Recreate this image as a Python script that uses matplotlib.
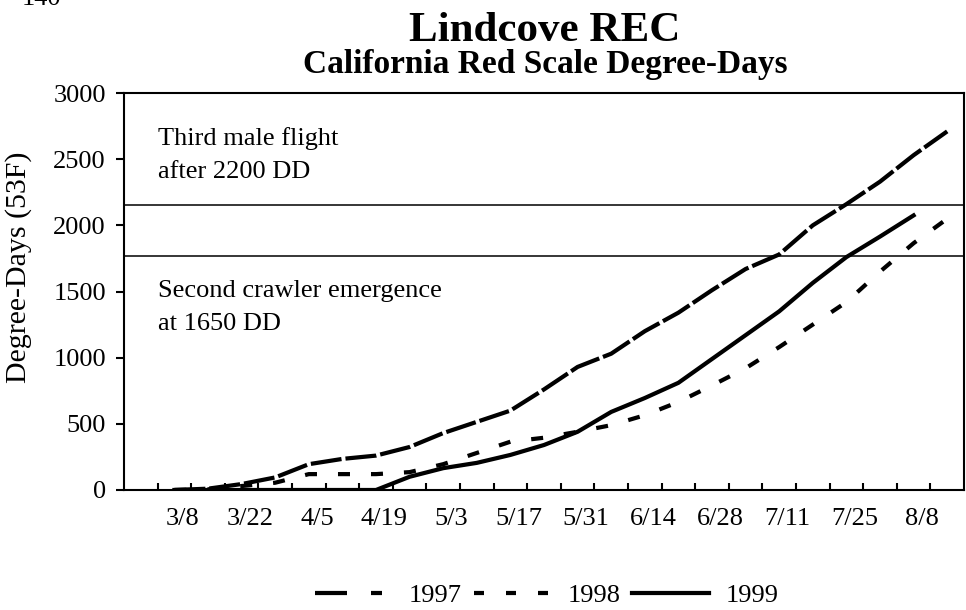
import matplotlib
matplotlib.use('Agg')
import matplotlib.pyplot as plt
import numpy as np
from matplotlib.lines import Line2D

plt.rcParams['font.family'] = ['Liberation Serif', 'DejaVu Serif']
plt.rcParams['lines.scale_dashes'] = False

nan = np.nan

# weekly categories, every other one labelled
n_weeks = 25
tick_labels = ['3/8', '3/22', '4/5', '4/19', '5/3', '5/17', '5/31',
               '6/14', '6/28', '7/11', '7/25', '8/8']

dd_1997 = [nan, 0, 10, 45, 95, 195, 235, 260, 325, 430, 515, 600, 760,
           930, 1030, 1200, 1340, 1510, 1670, 1780, 2000, 2160, 2330, 2530, 2710]
dd_1998 = [nan, 0, 5, 30, 55, 120, 120, 120, 135, 195, 280, 365, 395,
           440, 490, 565, 665, 790, 920, 1080, 1250, 1420, 1650, 1865, 2050]
dd_1999 = [nan, 0, 0, 0, 0, 0, 0, 0, 100, 165, 205, 265, 340,
           440, 590, 695, 810, 990, 1170, 1350, 1565, 1760, 1915, 2075, nan]

male_flight_dd = 2155
crawler_dd = 1770


def px(v):
    # pixels -> points at 100 dpi
    return v * 72 / 100


fig = plt.figure(figsize=(9.66, 6.1), dpi=100)
ax = fig.add_axes([124 / 966, 1 - 490 / 610, 840 / 966, 397 / 610])

x = np.arange(n_weeks)
lw = px(4.2)
ax.plot(x, dd_1997, color='black', lw=lw, dashes=(px(31), px(4)))
ax.plot(x, dd_1998, color='black', lw=lw, dashes=(px(12), px(21)))
ax.plot(x, dd_1999, color='black', lw=lw)

ax.axhline(male_flight_dd, color='black', lw=1.1)
ax.axhline(crawler_dd, color='black', lw=1.1)

fs = 19
ax.text(0.04, 0.845, 'Third male flight\nafter 2200 DD', transform=ax.transAxes,
        fontsize=fs, va='center', ha='left', linespacing=1.65)
ax.text(0.04, 0.46, 'Second crawler emergence\nat 1650 DD', transform=ax.transAxes,
        fontsize=fs, va='center', ha='left', linespacing=1.65)

ax.set_xlim(-0.5, n_weeks - 0.5)
ax.set_ylim(0, 3000)
ax.set_yticks(np.arange(0, 3001, 500))
ax.tick_params(axis='y', direction='out', length=6, width=1.5, pad=7, labelsize=fs)

# tick marks between weeks, labels every two weeks
ax.set_xticks(np.arange(0.5, n_weeks - 1, 1.0))
ax.set_xticklabels([])
ax.tick_params(axis='x', which='major', direction='in', length=5, width=1.5)
ax.set_xticks(np.arange(1, n_weeks, 2) + 0.25, minor=True)
ax.set_xticklabels(tick_labels, minor=True)
ax.tick_params(axis='x', which='minor', length=0, pad=13, labelsize=fs)

for s in ax.spines.values():
    s.set_linewidth(1.5)

ax.set_ylabel('Degree-Days (53F)', fontsize=21.5)
ax.yaxis.set_label_coords(-0.11, 0.56)

fig.text(545 / 966, 1 - 31 / 610, 'Lindcove REC', ha='center', va='center',
         fontsize=31, fontweight='bold')
fig.text(545 / 966, 1 - 64 / 610, 'California Red Scale Degree-Days', ha='center',
         va='center', fontsize=24, fontweight='bold')

# cut-off label from the chart above
fig.text(22 / 966, 1 - 5 / 610, '140', ha='left', va='baseline', fontsize=fs)

handles = [
    Line2D([], [], color='black', lw=lw, dashes=(px(32), px(24), px(11), px(60))),
    Line2D([], [], color='black', lw=lw, dashes=(px(10), px(22))),
    Line2D([], [], color='black', lw=lw),
]
fig.legend(handles, ['1997', '1998', '1999'], loc='center',
           bbox_to_anchor=(547 / 966, 1 - 595 / 610), ncol=3, frameon=False,
           fontsize=fs, handlelength=2.9, handletextpad=0.65, columnspacing=0.45)

fig.savefig('out.png', dpi=100)
